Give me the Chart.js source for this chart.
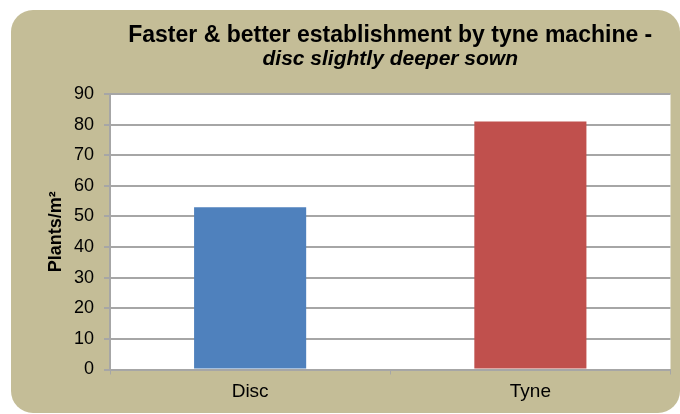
<!DOCTYPE html>
<html>
<head>
<meta charset="utf-8">
<script src="https://cdn.jsdelivr.net/npm/chart.js@4"></script>
<style>
  html, body { margin: 0; padding: 0; background: #ffffff; }
  #wrap { width: 680px; height: 414px; position: relative; }
</style>
</head>
<body>
<div id="wrap"><canvas id="chart" width="680" height="414"></canvas></div>
<script>
// Plant establishment by drill type
const categories = ['Disc', 'Tyne'];
const plantsPerM2 = [53, 81];
const titleLine = 'Faster & better establishment by tyne machine -';
const subtitleLine = 'disc slightly deeper sown';
const yAxisLabel = 'Plants/m²';
const yMin = 0, yMax = 90, yStep = 10;

const FONT = "'Liberation Sans', Arial, sans-serif";
const GRID = '#a6a6a6';

// Tan rounded panel behind everything, white plot area inside the axes
const panelPlugin = {
  id: 'panel',
  beforeDraw(chart) {
    const ctx = chart.ctx;
    const a = chart.chartArea;
    ctx.save();
    ctx.fillStyle = '#C4BD97';
    ctx.beginPath();
    ctx.roundRect(11, 10, 669, 403, 22);
    ctx.fill();
    ctx.fillStyle = '#ffffff';
    ctx.fillRect(a.left, a.top, a.right - a.left, a.bottom - a.top);
    ctx.restore();
  }
};

new Chart(document.getElementById('chart'), {
  type: 'bar',
  data: {
    labels: categories,
    datasets: [{
      data: plantsPerM2,
      backgroundColor: ['#4F81BD', '#C0504D'],
      borderWidth: 0,
      barPercentage: 0.4,
      categoryPercentage: 1.0
    }]
  },
  options: {
    responsive: false,
    animation: false,
    devicePixelRatio: 1,
    layout: { padding: { left: 0, right: 9.5, top: 0, bottom: 0 } },
    plugins: {
      legend: { display: false },
      tooltip: { enabled: false },
      title: {
        display: true,
        text: titleLine,
        fullSize: false,
        color: '#000000',
        font: { family: FONT, size: 23, weight: 'bold', lineHeight: 1.2 },
        padding: { top: 21.9, bottom: 0 }
      },
      subtitle: {
        display: true,
        text: subtitleLine,
        fullSize: false,
        color: '#000000',
        font: { family: FONT, size: 21, weight: 'bold', style: 'italic', lineHeight: 0.9 },
        padding: { top: 0, bottom: 25.6 }
      }
    },
    scales: {
      x: {
        grid: {
          display: true,
          drawOnChartArea: false,
          drawTicks: true,
          tickLength: 5,
          color: GRID,
          lineWidth: 1
        },
        border: { display: true, color: GRID, width: 2 },
        ticks: {
          color: '#000000',
          font: { family: FONT, size: 19 },
          padding: 6
        },
        afterFit(scale) { scale.height = 44.5; }
      },
      y: {
        min: yMin,
        max: yMax,
        grid: {
          color: GRID,
          lineWidth: 2,
          drawTicks: true,
          tickLength: 6
        },
        border: { display: true, color: GRID, width: 2 },
        ticks: {
          stepSize: yStep,
          color: '#000000',
          font: { family: FONT, size: 18 },
          padding: 10
        },
        title: {
          display: true,
          text: yAxisLabel,
          color: '#000000',
          font: { family: FONT, size: 18, weight: 'bold', lineHeight: 1.2 },
          padding: { top: 45.5, bottom: 0 }
        },
        afterFit(scale) { scale.width = 110; }
      }
    }
  },
  plugins: [panelPlugin]
});
</script>
</body>
</html>
